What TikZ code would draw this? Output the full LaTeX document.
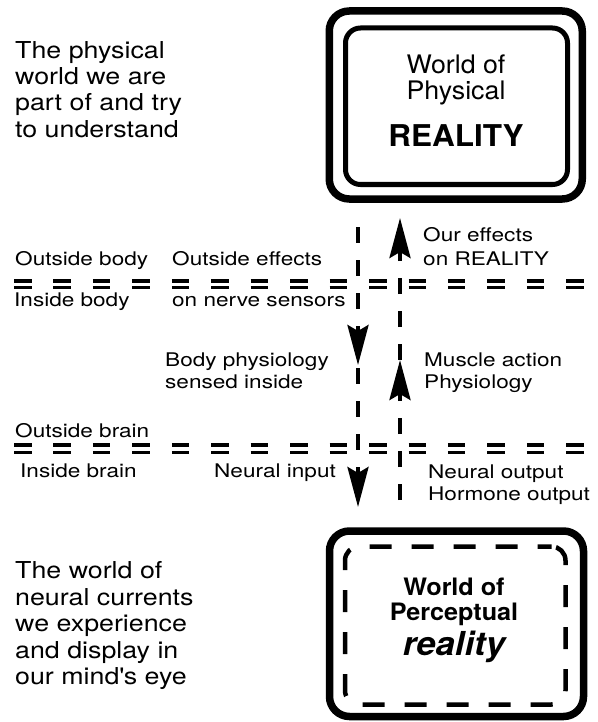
\documentclass[tikz,border=0pt]{standalone}
\usepackage{fontspec}
\setmainfont{TeX Gyre Heros}
\newfontfamily\bigf[FakeStretch=1.15]{TeX Gyre Heros}
\newfontfamily\labf[FakeStretch=1.2]{TeX Gyre Heros}
\newfontfamily\boxf[FakeStretch=1.05]{TeX Gyre Heros}
\usetikzlibrary{arrows.meta}
\begin{document}
\begin{tikzpicture}[x=1pt,y=-1pt,
  bigtxt/.style={font=\bigf\fontsize{23.3}{26}\selectfont, anchor=base west, inner sep=0},
  labtxt/.style={font=\labf\fontsize{18.8}{22}\selectfont, anchor=base west, inner sep=0},
  boxtxt/.style={font=\boxf\fontsize{25.5}{27}\selectfont, anchor=base, inner sep=0},
  outerbox/.style={draw, line width=7.5pt, rounded corners=20pt, inner sep=0, minimum width=253pt},
  innerbox/.style={draw, line width=5pt, rounded corners=15pt, inner sep=0, minimum width=222pt, minimum height=156.5pt},
  dashbox/.style={draw, line width=4.5pt, rounded corners=14pt, inner sep=0, minimum width=220.5pt, minimum height=158pt, dash pattern=on 22pt off 20pt, dash phase=8pt},
  sep/.style={line width=3.2pt, dash pattern=on 17.5pt off 21.95pt},
  flow/.style={line width=4pt, dash pattern=on 16pt off 17pt, -{Stealth[length=40pt, width=21pt, inset=6pt]}}
]
\useasboundingbox (0,0) rectangle (597,722);

% top box
\node[outerbox, minimum height=188pt] (physout) at (455.75,105) {};
\node[innerbox] (physin) at (456.5,106.25) {};
\node[boxtxt] (pw1) at (456,73.3) {World of};
\node[boxtxt] (pw2) at (456,100) {Physical};
\node[boxtxt, font=\boxf\bfseries\fontsize{30}{32}\selectfont] (pw3) at (456,146.7) {REALITY};

% bottom box
\node[outerbox, minimum width=254pt, minimum height=185.5pt] (percout) at (456.5,623.75) {};
\node[dashbox] (percin) at (455.25,625.5) {};
\node[boxtxt, font=\boxf\bfseries\fontsize{24}{26}\selectfont] (qw1) at (454,595) {World of};
\node[boxtxt, font=\boxf\bfseries\fontsize{24}{26}\selectfont] (qw2) at (454,620) {Perceptual};
\node[boxtxt, font=\boxf\bfseries\itshape\fontsize{33}{35}\selectfont] (qw3) at (454,655.5) {reality};

% left paragraphs
\node[bigtxt] (a1) at (15,58.3) {The physical};
\node[bigtxt] (a2) at (15,84.7) {world we are};
\node[bigtxt] (a3) at (15,111) {part of and try};
\node[bigtxt] (a4) at (15,137.4) {to understand};
\node[bigtxt] (b1) at (15,578.3) {The world of};
\node[bigtxt] (b2) at (15,605) {neural currents};
\node[bigtxt] (b3) at (15,631.5) {we experience};
\node[bigtxt] (b4) at (15,658) {and display in};
\node[bigtxt] (b5) at (15,684.5) {our mind\textquotesingle s eye};

% labels
\node[labtxt] (l1) at (423,241) {Our effects};
\node[labtxt] (l2) at (423,265) {on REALITY};
\node[labtxt] (l3) at (15,265) {Outside body};
\node[labtxt] (l4) at (172,265) {Outside effects};
\node[labtxt] (l5) at (14,306) {Inside body};
\node[labtxt] (l6) at (172,306) {on nerve sensors};
\node[labtxt] (l7) at (165,366) {Body physiology};
\node[labtxt] (l8) at (165,388) {sensed inside};
\node[labtxt] (l9) at (424,366) {Muscle action};
\node[labtxt] (l10) at (424,388) {Physiology};
\node[labtxt] (l11) at (15,437) {Outside brain};
\node[labtxt] (l12) at (20,477) {Inside brain};
\node[labtxt] (l13) at (214,477) {Neural input};
\node[labtxt] (l14) at (428,478) {Neural output};
\node[labtxt] (l15) at (428,500) {Hormone output};

% separators
\coordinate (s1a) at (14,281);   \coordinate (s1b) at (586,281);
\coordinate (s2a) at (14,287.5); \coordinate (s2b) at (586,287.5);
\coordinate (s3a) at (14,445);   \coordinate (s3b) at (586,445);
\coordinate (s4a) at (14,452.3); \coordinate (s4b) at (586,452.3);
\draw[sep] (s1a) -- (s1b);
\draw[sep] (s2a) -- (s2b);
\draw[sep] (s3a) -- (s3b);
\draw[sep] (s4a) -- (s4b);

% flows
\coordinate (L0) at (358,227);
\coordinate (L1) at (358,365);
\coordinate (L1b) at (358,368);
\coordinate (L2) at (358,507);
\coordinate (R0) at (400,500);
\coordinate (R1) at (400,360);
\coordinate (R2) at (400,218);
\draw[flow] (L0) -- (L1);
\draw[flow] (L1b) -- (L2);
\draw[flow] (R0) -- (R1);
\draw[flow] (R1) -- (R2);
\end{tikzpicture}
\end{document}
